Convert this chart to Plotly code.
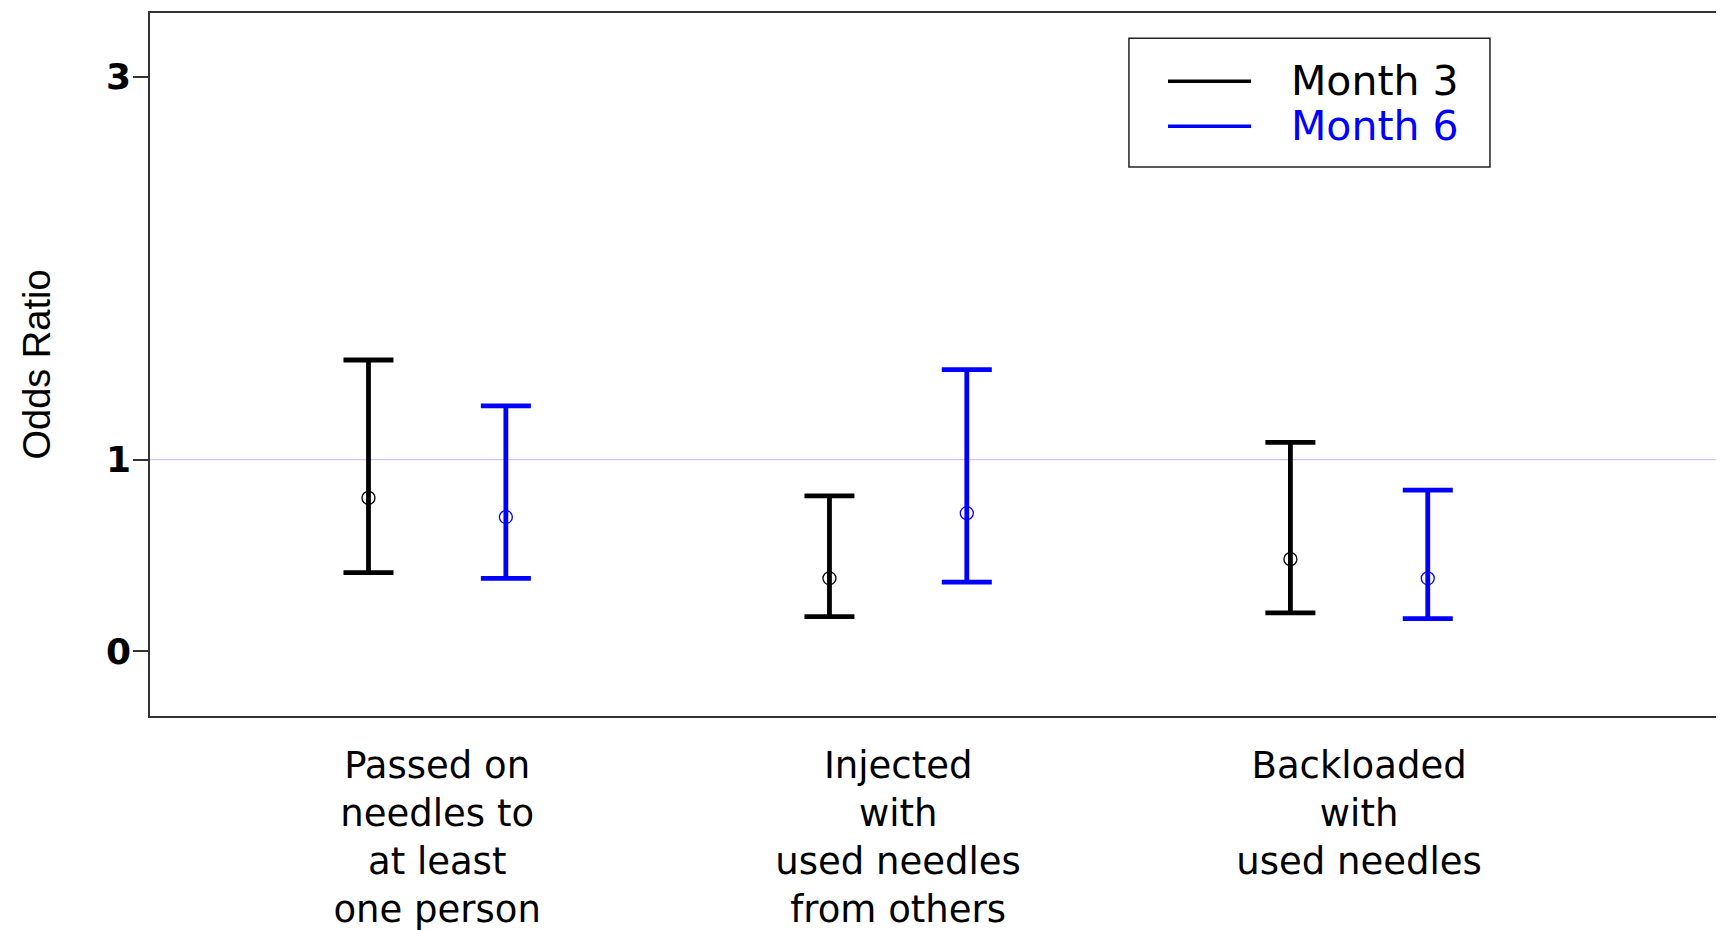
import plotly.graph_objects as go
import numpy as np

# ---- data ----
categories = [
    "Passed on<br>needles to<br>at least<br>one person",
    "Injected<br>with<br>used needles<br>from others",
    "Backloaded<br>with<br>used needles",
]
series_names = ["Month 3", "Month 6"]
series_colors = ["#000000", "#0000ff"]
month3_or = [0.80, 0.38, 0.48]
month3_lo = [0.41, 0.18, 0.20]
month3_hi = [1.52, 0.81, 1.09]
month6_or = [0.70, 0.72, 0.38]
month6_lo = [0.38, 0.36, 0.17]
month6_hi = [1.28, 1.47, 0.84]
y_ticks = [0, 1, 3]
ref_value = 1

series = [
    (month3_or, month3_lo, month3_hi),
    (month6_or, month6_lo, month6_hi),
]
offsets = [-0.149, 0.149]
pos = np.arange(1, len(categories) + 1)

fig = go.Figure()
for (orv, lo, hi), name, col, off in zip(series, series_names, series_colors, offsets):
    orv = np.array(orv); lo = np.array(lo); hi = np.array(hi)
    fig.add_trace(go.Scatter(
        x=pos + off, y=orv, mode="markers", name=name, showlegend=False,
        marker=dict(symbol="circle-open", size=13, color=col, line=dict(width=1.3, color=col)),
        error_y=dict(type="data", symmetric=False, array=hi - orv, arrayminus=orv - lo,
                     color=col, thickness=4.8, width=25),
    ))

fig.add_shape(type="line", xref="paper", x0=0, x1=1, yref="y", y0=ref_value, y1=ref_value,
              line=dict(color="#dcc0fa", width=1.3), layer="below")

# manual legend (box, line samples, coloured labels)
fig.add_shape(type="rect", xref="paper", yref="paper", x0=0.6188, x1=0.8470, y0=0.781, y1=0.964,
              line=dict(color="#222222", width=1.5), fillcolor="white")
leg_y = [0.903, 0.839]
for name, col, yy in zip(series_names, series_colors, leg_y):
    fig.add_shape(type="line", xref="paper", yref="paper", x0=0.6435, x1=0.6960, y0=yy, y1=yy,
                  line=dict(color=col, width=3.5))
    fig.add_annotation(xref="paper", yref="paper", x=0.7200, y=yy, text=name, showarrow=False,
                       xanchor="left", yanchor="middle",
                       font=dict(family="DejaVu Sans", size=41, color=col))

fig.update_layout(
    width=1724, height=930,
    margin=dict(l=142, r=0, t=5, b=222),
    plot_bgcolor="white", paper_bgcolor="white",
    showlegend=False,
    xaxis=dict(
        range=[0.377, 3.809], tickmode="array", tickvals=pos, ticktext=categories,
        showgrid=False, zeroline=False, showline=True, mirror=True, automargin=False,
        linecolor="#333333", linewidth=1.5, ticks="", ticklabelstandoff=16,
        tickfont=dict(family="DejaVu Sans", size=37, color="black"),
    ),
    yaxis=dict(
        range=[-0.339, 3.332], tickmode="array", tickvals=y_ticks,
        showgrid=False, zeroline=False, showline=True, mirror=False, automargin=False,
        linecolor="#333333", linewidth=1.5, ticks="outside", ticklen=15,
        tickcolor="#333333", tickwidth=1.5, ticklabelstandoff=-5,
        tickfont=dict(family="DejaVu Sans", size=36, color="black", weight="bold"),
        title=dict(text="Odds Ratio", standoff=44,
                   font=dict(family="Liberation Sans", size=38, color="black")),
    ),
)

fig.write_html("out.html")
